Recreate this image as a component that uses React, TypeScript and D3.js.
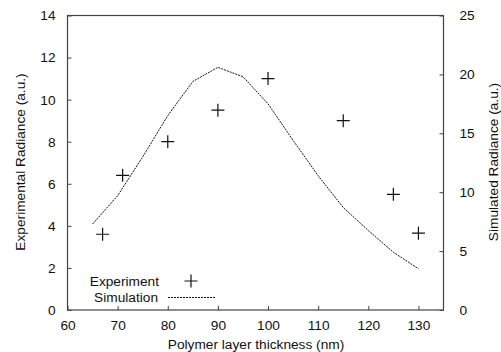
import React, { useEffect, useRef } from "react"
import * as d3 from "d3"

// experiment (left axis)
const expX = [67, 71, 80, 90, 100, 115, 125, 130]
const expY = [3.6, 6.4, 8.0, 9.5, 11, 9, 5.5, 3.65]

// simulation (right axis)
const simX = [65, 70, 75, 80, 85, 90, 95, 100, 105, 110, 115, 120, 125, 130]
const simY = [7.3, 9.7, 13.0, 16.5, 19.4, 20.6, 19.8, 17.5, 14.4, 11.4, 8.7, 6.75, 4.9, 3.5]

const xTicks = [60, 70, 80, 90, 100, 110, 120, 130]
const leftTicks = [0, 2, 4, 6, 8, 10, 12, 14]
const rightTicks = [0, 5, 10, 15, 20, 25]

const W = 501
const H = 352
const font = "'Liberation Sans', Arial, sans-serif"
const fs = 13.7

const App = () => {
  const ref = useRef<SVGSVGElement | null>(null)

  useEffect(() => {
    const svg = d3.select(ref.current)
    svg.selectAll("*").remove()

    const x = d3.scaleLinear().domain([60, 135]).range([67.5, 443.5])
    const yL = d3.scaleLinear().domain([0, 14]).range([310, 15.5])
    const yR = d3.scaleLinear().domain([0, 25]).range([310, 15.5])

    // frame
    svg
      .append("rect")
      .attr("x", 67.5)
      .attr("y", 15.5)
      .attr("width", 376)
      .attr("height", 294.5)
      .attr("fill", "none")
      .attr("stroke", "#444")
      .attr("stroke-width", 1.2)

    // bottom axis
    const gx = svg.append("g").attr("transform", "translate(0,310)")
    gx.call(d3.axisBottom(x).tickValues(xTicks).tickSize(-4).tickPadding(10))
    // left axis
    const gl = svg.append("g").attr("transform", "translate(67.5,0)")
    gl.call(d3.axisLeft(yL).tickValues(leftTicks).tickSize(-4).tickPadding(12))
    // right axis
    const gr = svg.append("g").attr("transform", "translate(443.5,0)")
    gr.call(d3.axisRight(yR).tickValues(rightTicks).tickSize(-4).tickPadding(16))

    for (const g of [gx, gl, gr]) {
      g.select(".domain").remove()
      g.selectAll(".tick line").attr("stroke", "#444")
      g.selectAll("text")
        .attr("font-family", font)
        .attr("font-size", fs)
        .attr("fill", "#111")
    }

    // simulation line
    const line = d3
      .line<number>()
      .x((d, i) => x(simX[i]))
      .y((d) => yR(d))
    svg
      .append("path")
      .datum(simY)
      .attr("d", line)
      .attr("fill", "none")
      .attr("stroke", "#111")
      .attr("stroke-width", 1)
      .attr("stroke-dasharray", "2,1")

    // experiment markers
    const plus = (px: number, py: number) => {
      svg
        .append("path")
        .attr("d", `M${px - 6.5},${py}H${px + 6.5}M${px},${py - 6.5}V${py + 6.5}`)
        .attr("stroke", "#111")
        .attr("stroke-width", 1.2)
    }
    expY.forEach((v, i) => plus(x(expX[i]), yL(v)))

    // legend
    const lg = svg.append("g").attr("font-family", font).attr("font-size", fs).attr("fill", "#111")
    lg.append("text").attr("x", 159).attr("y", 285.5).attr("text-anchor", "end").text("Experiment")
    plus(191, 281)
    lg.append("text").attr("x", 158).attr("y", 302).attr("text-anchor", "end").text("Simulation")
    svg
      .append("line")
      .attr("x1", 168)
      .attr("x2", 215)
      .attr("y1", 297.5)
      .attr("y2", 297.5)
      .attr("stroke", "#111")
      .attr("stroke-dasharray", "2,1")

    // axis titles
    const t = svg.append("g").attr("font-family", font).attr("font-size", fs).attr("fill", "#111").attr("text-anchor", "middle")
    t.append("text").attr("x", 256).attr("y", 349).text("Polymer layer thickness (nm)")
    t.append("text")
      .attr("transform", "translate(25,162) rotate(-90)")
      .text("Experimental Radiance (a.u.)")
    t.append("text")
      .attr("transform", "translate(498,162) rotate(-90)")
      .text("Simulated Radiance (a.u.)")
  }, [])

  return (
    <svg
      ref={ref}
      width={W}
      height={H}
      style={{ position: "absolute", left: 0, top: 0, background: "#fff" }}
    ></svg>
  )
}

export default App
